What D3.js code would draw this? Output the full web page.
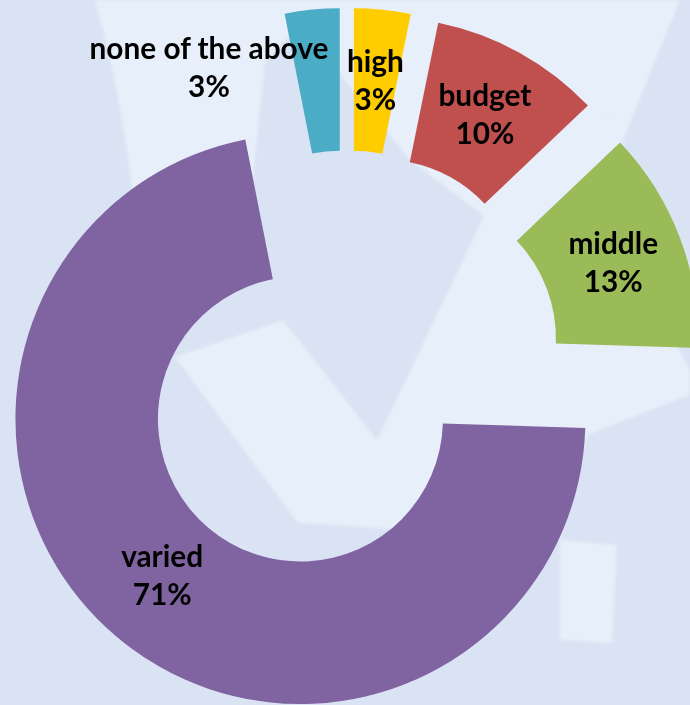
<!DOCTYPE html>
<html><head><meta charset="utf-8">
<script src="https://cdn.jsdelivr.net/npm/d3@7"></script>
<style>html,body{margin:0;padding:0;background:#dae3f3;overflow:hidden}</style>
</head><body><svg id="c" width="690" height="705"></svg>
<script>
// ---- data ----
const categories = ["high", "budget", "middle", "varied", "none of the above"];
const values = [3.2, 9.7, 12.6, 71.4, 3.1];
const colors = ["#ffcc00", "#c0504d", "#9bbb59", "#8064a2", "#4bacc6"];

// ---- layout ----
const W = 690, H = 705;
const cx = 346.7, cy = 364.5, rIn = 142.5, rOut = 285, explode = 71.5;
const labelNudge = {"none of the above": [-110, -13], "varied": [0, -6]};

const svg = d3.select("#c");
svg.append("rect").attr("width", W).attr("height", H).attr("fill", "#dae3f3");

// faint watermark shapes in background
const defs = svg.append("defs");
defs.append("filter").attr("id", "soft").append("feGaussianBlur").attr("stdDeviation", 1.5);
const bg = svg.append("g").attr("filter", "url(#soft)").attr("fill", "#e8effa");
const shapes = [
  "M95,0 L330,0 L300,25 L265,62 L252,188 L132,188 Q120,90 95,0 Z",
  "M330,0 L680,0 L630,123 L560,100 L484,216 L410,160 L300,25 Z",
  "M175,357 L283,320 L377,440 L484,216 L560,100 L630,123 L600,200 L690,370 L690,395 L587,435 L560,540 L300,523 L297,522 Z",
  "M560,540 L617,545 L612,643 L560,640 Z",
  "M100,470 L160,560 L247,547 L200,600 L120,620 Z"
];
bg.selectAll("path").data(shapes).join("path").attr("d", d => d).attr("opacity", 0.95);

const data = categories.map((c, i) => ({name: c, value: values[i], color: colors[i]}));
const total = d3.sum(values);
const pie = d3.pie().sort(null).value(d => d.value);
const arc = d3.arc().innerRadius(rIn).outerRadius(rOut);
const arcs = pie(data);

const g = svg.append("g").attr("transform", `translate(${cx},${cy})`);
const slices = g.selectAll("g.slice").data(arcs).join("g").attr("class", "slice")
  .attr("transform", d => {
    const m = (d.startAngle + d.endAngle) / 2;
    return `translate(${Math.sin(m) * explode},${-Math.cos(m) * explode})`;
  });
slices.append("path").attr("d", arc).attr("fill", d => d.data.color);

// labels
const fontFamily = "Lato, 'Open Sans', 'DejaVu Sans', sans-serif";
const probe = svg.append("text").attr("font-family", fontFamily).attr("font-weight", 700)
  .attr("font-size", 30).text("none of the above");
const fs = 30 * 239 / probe.node().getComputedTextLength();
probe.remove();

const labels = g.selectAll("g.lab").data(arcs).join("g").attr("class", "lab")
  .attr("transform", d => {
    const m = (d.startAngle + d.endAngle) / 2;
    const c = arc.centroid(d);
    const n = labelNudge[d.data.name] || [0, 0];
    return `translate(${c[0] + Math.sin(m) * explode + n[0]},${c[1] - Math.cos(m) * explode + n[1]})`;
  });
const t = labels.append("text").attr("text-anchor", "middle")
  .attr("font-family", fontFamily).attr("font-weight", 700).attr("font-size", fs).attr("fill", "#000");
t.append("tspan").attr("x", 0).attr("y", -9).text(d => d.data.name);
t.append("tspan").attr("x", 0).attr("y", 29).text(d => Math.round(d.data.value / total * 100) + "%");
</script>
</body></html>
